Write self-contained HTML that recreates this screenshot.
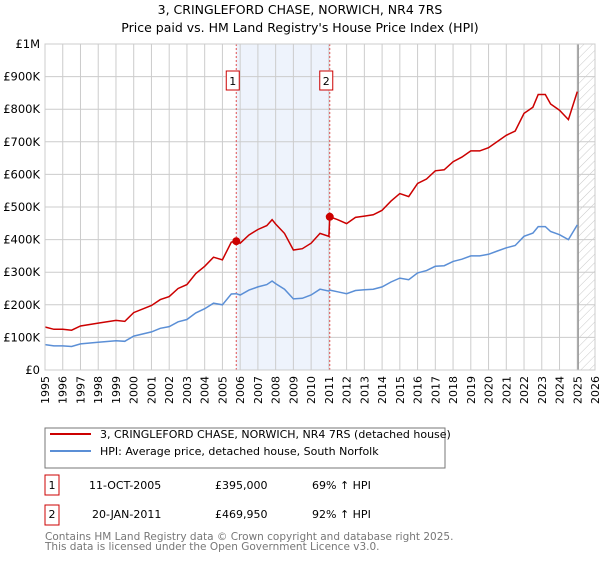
<!DOCTYPE html>
<html><head><meta charset="utf-8"><style>
body{margin:0;background:#fff;font-family:"DejaVu Sans","Liberation Sans",sans-serif;}
svg text{font-family:"DejaVu Sans","Liberation Sans",sans-serif;}
</style></head><body>
<svg id="c" width="600" height="560" xmlns="http://www.w3.org/2000/svg">
<defs><pattern id="hatch" width="6" height="6" patternUnits="userSpaceOnUse" patternTransform="rotate(45)"><line x1="0" y1="0" x2="0" y2="6" stroke="#bbb" stroke-width="0.8"/></pattern></defs>
<text x="300" y="14" text-anchor="middle" font-size="12.5">3, CRINGLEFORD CHASE, NORWICH, NR4 7RS</text>
<text x="300" y="32" text-anchor="middle" font-size="12.5">Price paid vs. HM Land Registry's House Price Index (HPI)</text>
<g id="plot"></g>
<rect x="45" y="428" width="400" height="40" fill="#fff" stroke="#777"/>
<line x1="50" y1="434" x2="91" y2="434" stroke="#cc0000" stroke-width="2"/>
<text x="100" y="438" font-size="11">3, CRINGLEFORD CHASE, NORWICH, NR4 7RS (detached house)</text>
<line x1="50" y1="451" x2="91" y2="451" stroke="#5b8fd6" stroke-width="2"/>
<text x="100" y="455" font-size="11">HPI: Average price, detached house, South Norfolk</text>
<g font-size="11">
<rect x="45" y="475" width="14" height="20" fill="#fff" stroke="#cc0000"/>
<text x="52" y="489" text-anchor="middle">1</text>
<text x="89" y="489">11-OCT-2005</text><text x="215" y="489">£395,000</text><text x="312" y="489">69% ↑ HPI</text>
<rect x="45" y="505" width="14" height="20" fill="#fff" stroke="#cc0000"/>
<text x="52" y="518" text-anchor="middle">2</text>
<text x="92" y="518">20-JAN-2011</text><text x="215" y="518">£469,950</text><text x="312" y="518">92% ↑ HPI</text>
</g>
<text x="45" y="540" font-size="10.5" fill="#777">Contains HM Land Registry data © Crown copyright and database right 2025.</text>
<text x="45" y="550" font-size="10.5" fill="#777">This data is licensed under the Open Government Licence v3.0.</text>
</svg>
<script>
const years=[1995,1995.5,1996,1996.5,1997,1998,1999,1999.5,2000,2001,2001.5,2002,2002.5,2003,2003.5,2004,2004.5,2005,2005.5,2005.78,2006,2006.5,2007,2007.5,2007.8,2008,2008.5,2009,2009.5,2010,2010.5,2011.0,2011.05,2011.5,2012,2012.5,2013,2013.5,2014,2014.5,2015,2015.5,2016,2016.5,2017,2017.5,2018,2018.5,2019,2019.5,2020,2020.5,2021,2021.5,2022,2022.5,2022.8,2023.2,2023.5,2024,2024.5,2025];
const hpi=[78,74,74,72,80,85,90,88,104,117,128,133,148,155,175,188,205,200,233,234,230,245,255,262,273,265,248,218,220,230,248,242,245,240,234,244,246,248,255,270,282,277,298,305,318,320,333,340,350,350,355,365,375,382,410,420,440,440,425,415,400,445];
const price=[132,125,125,122,135,144,152,149,176,198,216,225,250,262,296,318,346,338,392,395,389,414,431,443,461,448,419,368,372,389,419,410,470,461,449,468,472,476,490,518,541,532,572,586,611,614,639,653,672,672,682,701,720,733,787,806,845,845,816,797,768,854];
const yTicks=[0,100,200,300,400,500,600,700,800,900,1000];
const yLabels=["£0","£100K","£200K","£300K","£400K","£500K","£600K","£700K","£800K","£900K","£1M"];
const sales=[{t:2005.78,v:395,n:"1"},{t:2011.05,v:469.95,n:"2"}];
const X0=45,X1=595,Y0=370,Y1=44;
const x=t=>X0+(t-1995)/(2026-1995)*(X1-X0);
const y=v=>Y0-v/1000*(Y0-Y1);
const NS="http://www.w3.org/2000/svg",g=document.getElementById('plot');
function mk(tag,a,p){const e=document.createElementNS(NS,tag);for(const k in a)e.setAttribute(k,a[k]);(p||g).appendChild(e);return e;}
let e=mk('rect',{x:x(sales[0].t),y:Y1,width:x(sales[1].t)-x(sales[0].t),height:Y0-Y1,fill:'#eef3fc'});


e=mk('rect',{x:x(2025.05),y:Y1,width:X1-x(2025.05),height:Y0-Y1,fill:'url(#hatch)'});


for(let yr=1995;yr<=2026;yr++){
 e=mk('line',{x1:x(yr),x2:x(yr),y1:Y1,y2:Y0,stroke:'#ccc','stroke-width':1});
 
 
 e=mk('text',{transform:`translate(${x(yr)+4},${Y0+6}) rotate(-90)`,'text-anchor':'end','font-size':11});
 e.textContent=yr;
 
 
}
yTicks.forEach((v,i)=>{
 e=mk('line',{x1:X0,x2:X1,y1:y(v),y2:y(v),stroke:'#ccc','stroke-width':1});
 
 
 e=mk('text',{x:X0-5,y:y(v)+4,'text-anchor':'end','font-size':11.5});
 e.textContent=yLabels[i];
 
 
});
e=mk('line',{x1:x(2025.05),x2:x(2025.05),y1:Y1,y2:Y0,stroke:'#999','stroke-width':1.5});


sales.forEach(s=>{
 e=mk('line',{x1:x(s.t),x2:x(s.t),y1:Y1,y2:Y0,stroke:'#e05050','stroke-dasharray':'2,2','stroke-width':1});
 
 
 e=mk('rect',{x:x(s.t)-10,y:71,width:13,height:19,fill:'#fff',stroke:'#cc0000'});
 
 
 e=mk('text',{x:x(s.t)-3.5,y:85,'text-anchor':'middle','font-size':11});
 e.textContent=s.n;
 
 
});
const path=arr=>arr.map((v,i)=>(i?'L':'M')+x(years[i]).toFixed(1)+','+y(v).toFixed(1)).join('');
e=mk('path',{d:path(hpi),fill:'none',stroke:'#5b8fd6','stroke-width':1.5});


e=mk('path',{d:path(price),fill:'none',stroke:'#cc0000','stroke-width':1.5});


sales.forEach(s=>{
 e=mk('circle',{cx:x(s.t),cy:y(s.v),r:4,fill:'#cc0000'});
 
 
});
e=mk('rect',{x:X0,y:Y1,width:X1-X0,height:Y0-Y1,fill:'none',stroke:'#ccc'});


</script>
</body></html>
